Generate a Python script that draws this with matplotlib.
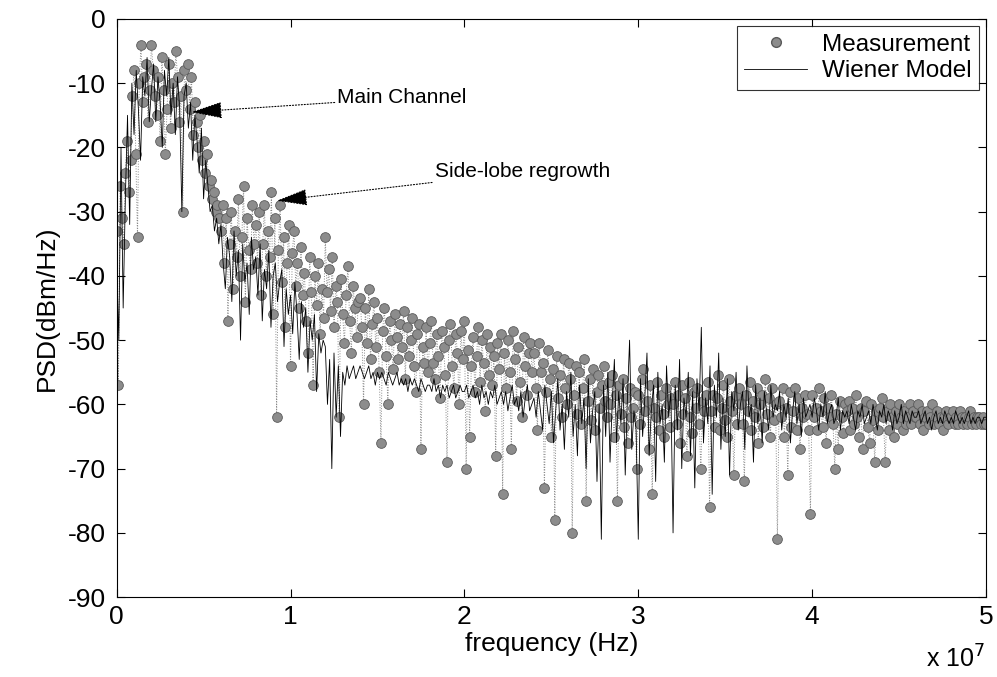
import numpy as np
import matplotlib
matplotlib.use("Agg")
import matplotlib.pyplot as plt
from matplotlib.ticker import FixedLocator, FixedFormatter

plt.rcParams['font.family'] = ['Liberation Sans', 'DejaVu Sans']
plt.rcParams['axes.unicode_minus'] = False

# ---- data (dBm/Hz) ----
meas_step_hz = 1.0e5     # measurement sampled every 0.1 MHz
model_step_hz = 1.25e5   # model sampled every 0.125 MHz

measurement = [
    -33, -57, -26, -31, -35, -24, -19, -27, -22, -12, -8, -21, -34, -10, -4, -13, -9, -7, -16, -11,
    -4, -8, -12, -15, -9, -19, -6, -11, -21, -14, -7, -17, -10, -13, -5, -9, -16, -12, -30, -8,
    -11, -7, -14, -9, -18, -13, -16, -20, -15, -22, -19, -24, -21, -26, -25, -28, -27, -30, -29, -31,
    -33, -29, -38, -31, -47, -35, -30, -42, -33, -37, -28, -40, -34, -26, -44, -31, -36, -39, -29, -35,
    -32, -38, -30, -43, -35, -29, -40, -33, -37, -27, -46, -31, -62, -36, -29, -41, -34, -48, -38, -32,
    -54, -36.5, -33, -41.5, -38, -45, -35.5, -43, -39.5, -47, -52, -37, -42.5, -57, -40, -44.5, -38, -49, -42, -46.5,
    -34, -42.5, -39, -45.5, -37, -48, -41.5, -44, -62, -40.5, -46, -50.5, -43, -38.5, -47, -52, -41.5, -45, -49.5, -44,
    -43.5, -48, -60, -45, -50.5, -42, -53, -47.5, -44, -51, -46.5, -55, -66, -48.5, -45, -52.5, -60, -47, -50, -54.5,
    -46, -49.5, -53, -47.5, -51, -45.5, -56, -48, -52.5, -50, -46.5, -54, -58, -49, -47.5, -67, -51, -53.5, -48, -55,
    -50.5, -47, -53.5, -56, -49, -52.5, -59, -48.5, -51, -55.5, -69, -50, -47.5, -54, -57.5, -49, -52, -60, -48.5, -53,
    -47, -70, -51.5, -65, -54, -49.5, -58, -52.5, -48, -56.5, -50, -53.5, -61, -49, -55.5, -51, -57, -52.5, -68, -50.5,
    -54.5, -49, -74, -52, -57.5, -50, -55, -67, -48.5, -53, -59.5, -51, -56.5, -62, -49.5, -54, -58.5, -52, -50.5, -55,
    -52, -57.5, -64, -50.5, -55, -53.5, -73, -58, -51.5, -56, -65, -54.5, -78, -52.5, -59, -55.5, -62, -53, -57.5, -60,
    -53.5, -56, -80, -58.5, -54, -61.5, -55, -63, -57.5, -53, -75, -59.5, -56, -62.5, -54.5, -64, -58, -55.5, -60.5, -57,
    -54, -59.5, -62, -56.5, -60, -55.5, -65, -58.5, -75, -57, -61.5, -56, -63.5, -59, -66, -57.5, -62, -60.5, -58, -70,
    -58.5, -63, -56, -54.5, -61, -59.5, -67, -57, -74, -60.5, -62, -56.5, -64, -58.5, -61.5, -65, -57.5, -60, -63.5, -59,
    -60, -56.5, -63, -58.5, -66, -57, -61.5, -59, -68, -56.5, -62, -64.5, -58, -60.5, -57.5, -63, -70, -59.5, -61, -58.5,
    -56.5, -76, -61, -58.5, -63.5, -59, -55.5, -64, -60.5, -57, -62.5, -65, -56, -59.5, -61, -71, -58.5, -63, -57.5, -60,
    -63, -72, -58.5, -61, -56.5, -64, -59.5, -62, -57.5, -66, -60, -58.5, -63.5, -56, -61.5, -59, -65, -57.5, -62.5, -60,
    -81, -59.5, -62, -57.5, -65, -60.5, -71, -58, -63.5, -61, -57.5, -64, -59, -67, -60.5, -62, -58.5, -61.5, -64, -77,
    -58.5, -62, -60.5, -64, -57.5, -61, -63.5, -59, -66, -60.5, -62, -58.5, -63, -70, -61.5, -67, -59.5, -62, -64.5, -60,
    -61, -59.5, -64, -60.5, -63, -58.5, -62, -65, -60.5, -67, -61, -59.5, -63.5, -66, -60, -62.5, -69, -61, -64, -60.5,
    -59, -62, -69, -61, -64, -60, -62, -65, -61, -63, -60, -62, -64, -61, -63, -62, -60, -63, -61, -62,
    -62, -60, -63, -61, -64, -62, -61, -63, -62, -60, -63, -62, -61, -63, -62, -64, -62, -61, -63, -62,
    -62, -61, -63, -62, -63, -61, -62, -63, -62, -63, -62, -61, -63, -62, -63, -62, -62, -63, -62, -63,
    -63,
]

wiener_model = [
    -38, -50, -20, -45, -28, -15, -32, -10, -18, -8, -14, -22, -9, -12, -6, -16,
    -11, -7, -16, -9, -13, -20, -8, -12, -6, -15, -10, -18, -9, -14, -30, -12,
    -10, -17, -13, -22, -15, -19, -24, -17, -28, -22, -26, -30, -29, -33, -31, -35,
    -32, -38, -42, -34, -37, -44, -33, -40, -36, -50, -35, -41, -38, -46, -34, -39,
    -37, -43, -35, -47, -39, -42, -36, -48, -40, -38, -44, -41, -39, -51, -42, -46,
    -43, -49, -41, -46, -53, -44, -48, -45, -55, -47, -50, -46, -58, -49, -52, -50,
    -51, -60, -53, -70, -52, -62, -54, -65, -55, -57, -54, -56, -55, -54, -56, -55,
    -54, -55, -56, -55, -54, -56, -55, -57, -55, -56, -55, -56, -57, -55, -56, -57,
    -56, -55, -57, -56, -57, -56, -58, -56, -57, -56, -57, -58, -56, -57, -58, -57,
    -57, -58, -56, -58, -57, -59, -57, -58, -57, -59, -58, -57, -59, -58, -57, -58,
    -58, -57, -59, -58, -57, -59, -58, -60, -57, -59, -58, -60, -58, -59, -57, -60,
    -59, -58, -60, -58, -61, -59, -57, -60, -59, -61, -58, -62, -59, -57, -61, -60,
    -59, -62, -58, -61, -64, -57, -60, -63, -58, -66, -61, -56, -64, -60, -67, -58,
    -62, -55, -65, -60, -68, -57, -63, -59, -70, -56, -66, -61, -58, -72, -60, -81,
    -57, -65, -55, -69, -60, -53, -66, -58, -63, -56, -71, -59, -50, -67, -61, -64,
    -81, -56, -65, -59, -52, -68, -61, -57, -72, -55, -63, -60, -69, -54, -62, -58,
    -80, -57, -64, -53, -70, -59, -62, -55, -68, -58, -73, -56, -61, -48, -66, -59,
    -63, -54, -74, -57, -62, -52, -67, -59, -65, -56, -71, -58, -61, -55, -64, -60,
    -58, -67, -54, -62, -60, -69, -57, -63, -59, -66, -58, -61, -64, -57, -62, -60,
    -61, -58, -64, -60, -62, -59, -66, -61, -58, -63, -60, -65, -59, -62, -61, -60,
    -62, -59, -61, -64, -60, -62, -58, -63, -61, -60, -63, -62, -59, -64, -61, -62,
    -61, -63, -60, -62, -64, -61, -62, -60, -63, -62, -61, -63, -60, -62, -64, -61,
    -62, -60, -63, -61, -62, -64, -61, -63, -62, -60, -63, -61, -62, -63, -61, -62,
    -62, -61, -63, -62, -61, -63, -62, -64, -62, -61, -63, -62, -63, -61, -62, -63,
    -62, -63, -61, -62, -63, -62, -63, -62, -61, -63, -62, -63, -62, -62, -63, -62,
    -62,
]

x_ticks = [0, 1e7, 2e7, 3e7, 4e7, 5e7]
x_tick_labels = ["0", "1", "2", "3", "4", "5"]
y_ticks = [0, -10, -20, -30, -40, -50, -60, -70, -80, -90]

freq_meas = np.arange(len(measurement)) * meas_step_hz
freq_model = np.arange(len(wiener_model)) * model_step_hz

fig = plt.figure(figsize=(9.97, 6.77), dpi=100)
ax = fig.add_axes([0.117, 0.118, 0.872, 0.854])

ms = 7
ax.plot(freq_meas, measurement, linestyle=':', color='#8a8a8a', linewidth=0.7,
        marker='o', markersize=ms, markerfacecolor='#8c8c8c',
        markeredgecolor='#5a5a5a', markeredgewidth=0.6)
ax.plot(freq_model, wiener_model, linestyle='-', color='black', linewidth=0.6)

ax.set_xlim(0, 5e7)
ax.set_ylim(-90, 0)
ax.xaxis.set_major_locator(FixedLocator(x_ticks))
ax.xaxis.set_major_formatter(FixedFormatter(x_tick_labels))
ax.set_yticks(y_ticks)
ax.tick_params(direction='in', top=True, right=True, labelsize=19, length=6, width=0.8)
ax.tick_params(axis='x', pad=6)
ax.tick_params(axis='y', pad=8)
for sp in ax.spines.values():
    sp.set_linewidth(0.8)

ax.set_xlabel('frequency (Hz)', fontsize=19, labelpad=2)
ax.set_ylabel('PSD(dBm/Hz)', fontsize=19, labelpad=6)
fig.text(0.988, 0.026, r'x 10$^7$', fontsize=18, ha='right', va='center')

leg_handles = [
    plt.Line2D([], [], linestyle='none', marker='o', markersize=ms,
               markerfacecolor='#8c8c8c', markeredgecolor='#5a5a5a'),
    plt.Line2D([], [], linestyle='-', color='black', linewidth=0.6),
]
ax.legend(leg_handles, ['Measurement', 'Wiener Model'], loc='upper right',
          fontsize=17.5, frameon=True, fancybox=False, edgecolor='black',
          borderaxespad=0.3, handlelength=2.6, labelspacing=0.2,
          borderpad=0.3, handletextpad=0.6)
ax.get_legend().get_frame().set_linewidth(0.8)

arrow_kw = dict(arrowstyle='-|>,head_length=1.3,head_width=0.35',
                linestyle=':', linewidth=0.8, color='black',
                shrinkA=0, shrinkB=0)
ax.annotate('Main Channel', xy=(0.43e7, -14.5), xytext=(1.27e7, -12.3),
            fontsize=15, va='center', ha='left', arrowprops=arrow_kw)
ax.annotate('Side-lobe regrowth', xy=(0.92e7, -28.3), xytext=(1.83e7, -23.8),
            fontsize=15, va='center', ha='left', arrowprops=arrow_kw)

fig.savefig('out.png', dpi=100)
